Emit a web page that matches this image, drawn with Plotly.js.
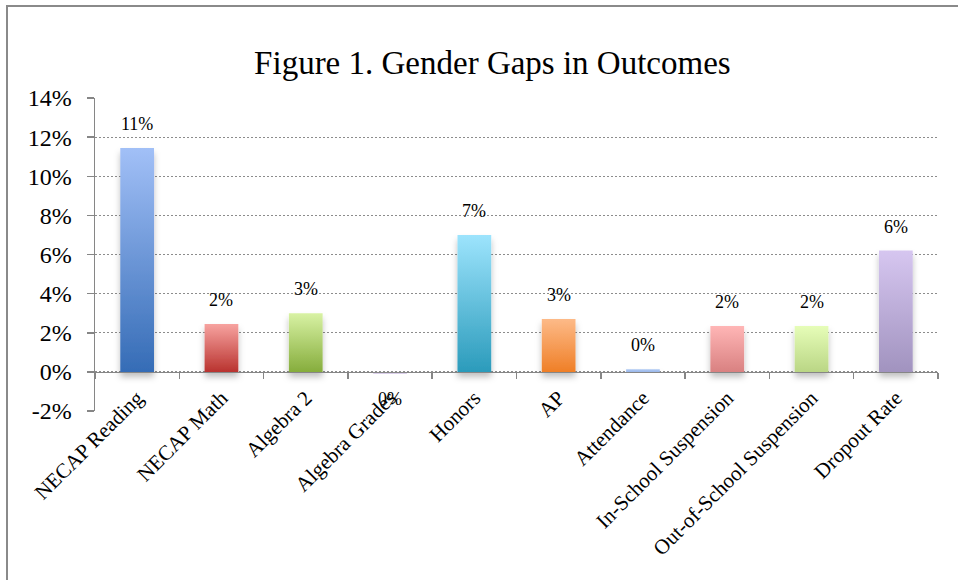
<!DOCTYPE html>
<html>
<head>
<meta charset="utf-8">
<script src="https://cdn.plot.ly/plotly-3.0.1.min.js"></script>
<style>
  html, body { margin:0; padding:0; background:#fff; }
  #wrap { position:relative; width:958px; height:580px; }
  #chart { width:958px; height:580px; }
  #frame { position:absolute; left:6px; top:5px; width:952px; height:575px;
           border-left:2px solid #8a8a8a; border-top:2px solid #8a8a8a; box-sizing:border-box; pointer-events:none; }
</style>
</head>
<body>
<div id="wrap"><div id="chart"></div><div id="frame"></div></div>
<script>
const categories = ["NECAP Reading", "NECAP Math", "Algebra 2", "Algebra Grades", "Honors", "AP",
                    "Attendance", "In-School Suspension", "Out-of-School Suspension", "Dropout Rate"];
const gapValues = [11.45, 2.45, 3.0, -0.08, 7.0, 2.7, 0.14, 2.35, 2.35, 6.2];
const tickValues = [-2, 0, 2, 4, 6, 8, 10, 12, 14];
const tickLabels = ["-2%", "0%", "2%", "4%", "6%", "8%", "10%", "12%", "14%"];
const topColors    = ["#a2c0f7", "#f7a3a0", "#d8f2a4", "#c9b6e6", "#9de4fd", "#fdba88", "#b0caf4", "#ffb6b6", "#e6fdb8", "#d6c6f0"];
const bottomColors = ["#356cb6", "#b9332f", "#86ad3c", "#b7a2d8", "#2b9bbb", "#ef7f27", "#9bb8ea", "#d98181", "#bad685", "#a193bf"];
const midColors    = ["#6f95d6", "#d86a66", "#b0d070", "#c0acdf", "#64c0dc", "#f69c58", "#a6c1ef", "#ec9b9b", "#d0ea9e", "#bbacd8"];

const fmt = v => { const r = Math.round(v); return (r === 0 ? 0 : r) + "%"; };

const trace = {
  type: "bar",
  x: categories,
  y: gapValues,
  width: 0.4,
  marker: { color: midColors, line: { width: 0 } },
  hoverinfo: "none"
};

const annotations = categories.map((c, i) => ({
  x: c, y: gapValues[i], xref: "x", yref: "y",
  text: fmt(gapValues[i]), showarrow: false,
  yanchor: "middle", yshift: gapValues[i] >= 0 ? 24 : -26,
  font: { family: "Liberation Serif, Times New Roman, serif", size: 18, color: "#000" }
}));

const layout = {
  width: 958, height: 580,
  margin: { l: 95, r: 20, t: 98, b: 169 },
  paper_bgcolor: "#fff", plot_bgcolor: "#fff",
  showlegend: false,
  title: {
    text: "Figure 1. Gender Gaps in Outcomes",
    font: { family: "Liberation Serif, Times New Roman, serif", size: 33, color: "#000" },
    xref: "container", yref: "container", x: 0.514, xanchor: "center", y: 0.893, yanchor: "middle"
  },
  xaxis: {
    type: "category", range: [-0.5, 9.5],
    anchor: "free", position: 0.125,
    showline: true, linecolor: "#868686", linewidth: 1.5,
    ticks: "outside", tickson: "boundaries", ticklen: 6, tickcolor: "#868686", tickwidth: 1.5,
    ticklabelstandoff: 4,
    tickangle: -45, showgrid: false, zeroline: false,
    tickfont: { family: "Liberation Serif, Times New Roman, serif", size: 21, color: "#000" }
  },
  yaxis: {
    range: [-2, 14], tickvals: tickValues, ticktext: tickLabels,
    showline: true, linecolor: "#868686", linewidth: 1.5,
    ticks: "outside", ticklen: 7, tickcolor: "#868686", tickwidth: 1.5,
    ticklabelstandoff: 10,
    showgrid: true, gridcolor: "#8c8c8c", gridwidth: 1, griddash: "2px,2px",
    zeroline: false,
    tickfont: { family: "Liberation Serif, Times New Roman, serif", size: 24, color: "#000" }
  },
  annotations: annotations
};

Plotly.newPlot("chart", [trace], layout, { displayModeBar: false, staticPlot: true }).then(gd => {
  const svg = gd.querySelector("svg.main-svg");
  const ns = "http://www.w3.org/2000/svg";
  let defs = svg.querySelector("defs");
  if (!defs) { defs = document.createElementNS(ns, "defs"); svg.insertBefore(defs, svg.firstChild); }
  topColors.forEach((tc, i) => {
    const g = document.createElementNS(ns, "linearGradient");
    g.setAttribute("id", "barGrad" + i);
    g.setAttribute("x1", "0"); g.setAttribute("y1", "0"); g.setAttribute("x2", "0"); g.setAttribute("y2", "1");
    const s1 = document.createElementNS(ns, "stop"); s1.setAttribute("offset", "0"); s1.setAttribute("stop-color", tc);
    const s2 = document.createElementNS(ns, "stop"); s2.setAttribute("offset", "1"); s2.setAttribute("stop-color", bottomColors[i]);
    g.appendChild(s1); g.appendChild(s2); defs.appendChild(g);
  });
  const f = document.createElementNS(ns, "filter");
  f.setAttribute("id", "barShadow"); f.setAttribute("x", "-30%"); f.setAttribute("y", "-10%");
  f.setAttribute("width", "160%"); f.setAttribute("height", "140%");
  f.innerHTML = '<feDropShadow dx="0" dy="5" stdDeviation="3" flood-color="#000" flood-opacity="0.25"/>';
  defs.appendChild(f);
  gd.querySelectorAll(".barlayer .point path").forEach((p, i) => {
    p.style.fill = "url(#barGrad" + i + ")";
    p.style.filter = "url(#barShadow)";
  });
});
</script>
</body>
</html>
